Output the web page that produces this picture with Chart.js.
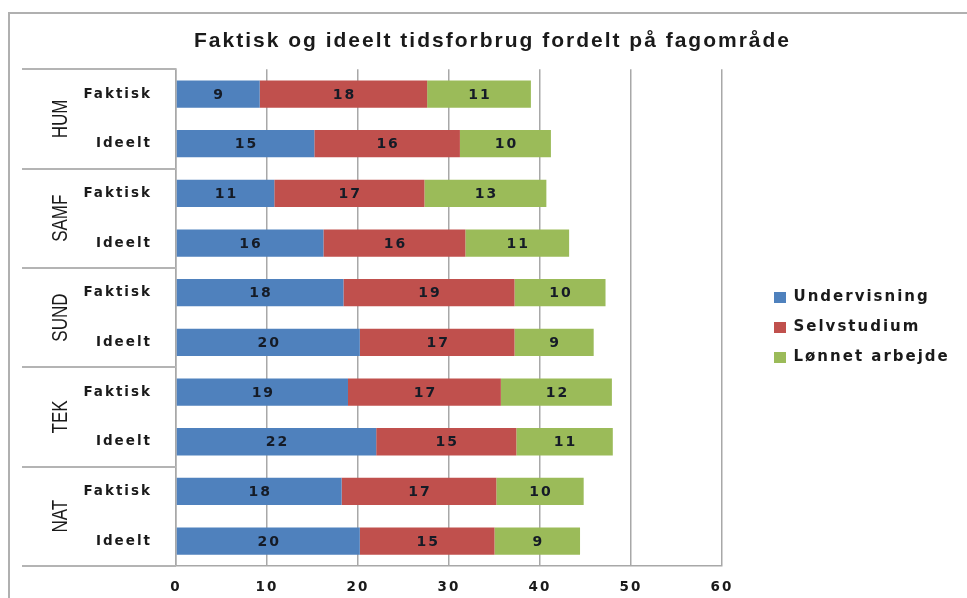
<!DOCTYPE html>
<html>
<head>
<meta charset="utf-8">
<script src="https://cdn.jsdelivr.net/npm/chart.js@4.4.1/dist/chart.umd.min.js"></script>
<style>
  html, body { margin: 0; padding: 0; background: #fff; }
  #wrap { position: relative; width: 967px; height: 598px; overflow: hidden; }
  #frame { position: absolute; left: 8px; top: 12px; width: 1000px; height: 700px;
           border-left: 2px solid #b0b0b0; border-top: 2px solid #b0b0b0; }
  #chart { position: absolute; left: 0; top: 0; }
</style>
</head>
<body>
<div id="wrap">
  <div id="frame"></div>
  <canvas id="chart" width="967" height="598"></canvas>
</div>
<script>
const title = "Faktisk og ideelt tidsforbrug fordelt på fagområde";
const groups = ["HUM", "SAMF", "SUND", "TEK", "NAT"];
const rows = ["Faktisk", "Ideelt", "Faktisk", "Ideelt", "Faktisk", "Ideelt", "Faktisk", "Ideelt", "Faktisk", "Ideelt"];
const seriesNames = ["Undervisning", "Selvstudium", "Lønnet arbejde"];
const undervisning = [9.2, 15.2, 10.8, 16.2, 18.4, 20.2, 18.9, 22.0, 18.2, 20.2];
const selvstudium = [18.4, 16.0, 16.5, 15.6, 18.8, 17.0, 16.8, 15.4, 17.0, 14.8];
const lonnetArbejde = [11.4, 10.0, 13.4, 11.4, 10.0, 8.7, 12.2, 10.6, 9.6, 9.4];
const xMax = 60;
const xStep = 10;

const gridGray = "#a8a8a8";
const textDark = "#1a1a1a";

// the original text is stretched wide
const spacing = {
  id: "spacing",
  beforeUpdate(chart) { chart.ctx.letterSpacing = "2px"; },
  beforeDraw(chart) { chart.ctx.letterSpacing = "2px"; }
};

// push the legend further right of the plot
const legendShift = {
  id: "legendShift",
  afterLayout(chart) {
    chart.legend.left += 37;
    chart.legend.right += 37;
  }
};

// value labels in the middle of each segment
const barLabels = {
  id: "barLabels",
  afterDatasetsDraw(chart) {
    const ctx = chart.ctx;
    ctx.save();
    ctx.font = "bold 14px 'DejaVu Sans'";
    ctx.fillStyle = "#151b26";
    ctx.textAlign = "center";
    ctx.textBaseline = "middle";
    chart.data.datasets.forEach((ds, i) => {
      chart.getDatasetMeta(i).data.forEach((bar, j) => {
        ctx.fillText(String(Math.round(ds.data[j])), (bar.x + bar.base) / 2 + 1, bar.y + 1);
      });
    });
    ctx.restore();
  }
};

// outer category level: separators and rotated group names
const groupAxis = {
  id: "groupAxis",
  afterDraw(chart) {
    const { ctx, chartArea } = chart;
    const y = chart.scales.y;
    const per = rows.length / groups.length;
    const edge = (k) => y.getPixelForValue(k - 0.5);
    ctx.save();
    ctx.strokeStyle = "#b4b4b4";
    ctx.lineWidth = 2;
    for (let g = 0; g <= groups.length; g++) {
      const py = Math.round(edge(g * per));
      ctx.beginPath();
      ctx.moveTo(22, py);
      ctx.lineTo(chartArea.left, py);
      ctx.stroke();
    }
    ctx.letterSpacing = "0px";
    ctx.font = "17px 'Liberation Sans'";
    ctx.fillStyle = textDark;
    ctx.textAlign = "center";
    ctx.textBaseline = "middle";
    groups.forEach((name, g) => {
      const cy = (edge(g * per) + edge((g + 1) * per)) / 2;
      ctx.save();
      ctx.translate(61, cy);
      ctx.rotate(-Math.PI / 2);
      ctx.scale(1, 1.3);
      ctx.fillText(name, 0, 0);
      ctx.restore();
    });
    ctx.restore();
  }
};

new Chart(document.getElementById("chart"), {
  type: "bar",
  data: {
    labels: rows,
    datasets: [
      { label: seriesNames[0], data: undervisning, backgroundColor: "#4f81bd" },
      { label: seriesNames[1], data: selvstudium, backgroundColor: "#c0504d" },
      { label: seriesNames[2], data: lonnetArbejde, backgroundColor: "#9bbb59" }
    ]
  },
  options: {
    indexAxis: "y",
    responsive: false,
    animation: false,
    devicePixelRatio: 1,
    barPercentage: 0.55,
    categoryPercentage: 1,
    layout: { padding: { top: 0, left: 18, right: 0, bottom: 0 } },
    scales: {
      x: {
        stacked: true,
        min: 0,
        max: xMax,
        ticks: {
          stepSize: xStep,
          padding: 13,
          color: textDark,
          font: { family: "'DejaVu Sans'", size: 13.5, weight: "bold" }
        },
        grid: { color: gridGray, lineWidth: 1.5, drawTicks: false },
        border: { color: gridGray, width: 1.5 },
        afterFit(scale) {
          scale.height = 32;
          scale.paddingRight = 245;
        }
      },
      y: {
        stacked: true,
        ticks: {
          padding: 24,
          color: textDark,
          font: { family: "'DejaVu Sans'", size: 13.5, weight: "bold" }
        },
        grid: { drawOnChartArea: false, drawTicks: false },
        border: { color: gridGray, width: 1.5 },
        afterFit(scale) {
          scale.width = 158;
        }
      }
    },
    plugins: {
      title: {
        display: true,
        text: title,
        color: textDark,
        font: { family: "'Liberation Sans'", size: 21, weight: "bold" },
        padding: { top: 29, bottom: 15 }
      },
      legend: {
        position: "right",
        fullSize: false,
        title: { display: true, text: "", padding: 4, font: { size: 10 } },
        labels: {
          boxWidth: 12,
          boxHeight: 11,
          padding: 15,
          color: textDark,
          font: { family: "'DejaVu Sans'", size: 15, weight: "bold" }
        }
      },
      tooltip: { enabled: false }
    }
  },
  plugins: [spacing, legendShift, barLabels, groupAxis]
});
</script>
</body>
</html>
